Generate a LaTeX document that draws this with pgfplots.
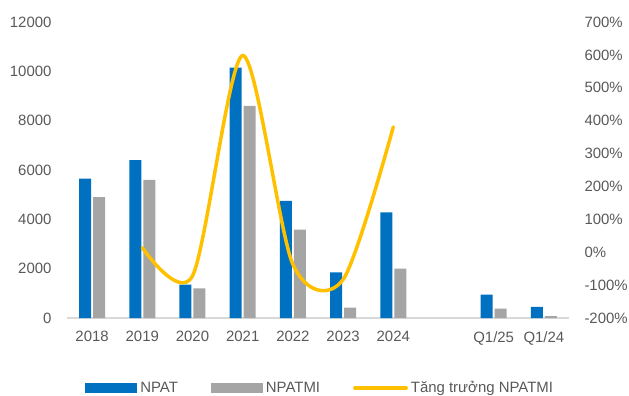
\documentclass[border=0pt]{standalone}
\usepackage{fontspec}
\setmainfont{Liberation Sans}
\usepackage{pgfplots}
\pgfplotsset{compat=1.18}
\definecolor{cblue}{HTML}{0070C0}
\definecolor{cgray}{HTML}{A5A5A5}
\definecolor{cyellow}{HTML}{FFC000}
\definecolor{ctext}{HTML}{595959}
\definecolor{caxis}{HTML}{D9D9D9}
\begin{document}
\begin{tikzpicture}[font=\fontsize{15}{18}\selectfont]
\pgfplotsset{
  base/.style={
    scale only axis, width=502bp, height=296bp,
    xmin=-0.5, xmax=9.5,
    /pgf/number format/assume math mode=true,
    /pgf/number format/1000 sep={},
    tick label style={color=ctext, font=\fontsize{15}{18}\selectfont},
    major tick length=0pt,
    xtick style={draw=none}, ytick style={draw=none},
    axis line style={-},
  }
}
\begin{axis}[base, name=ax,
  ymin=0, ymax=12000, ytick={0,2000,...,12000},
  scaled y ticks=false,
  axis y line*=left, axis x line*=bottom,
  y axis line style={draw=none},
  x axis line style={draw=caxis, line width=1.5bp},
  xtick={0,1,2,3,4,5,6,8,9},
  xticklabels={2018,2019,2020,2021,2022,2023,2024,Q1/25,Q1/24},
  ybar=2bp, bar width=12bp,
  yticklabel style={xshift=-12bp},
  xticklabel style={yshift=-10bp},
  legend columns=-1,
  legend style={at={(0.036,-0.2365)}, anchor=west, draw=none, fill=none,
    inner sep=0pt, font=\fontsize{15}{18}\selectfont, text=ctext,
    nodes={inner sep=3bp},
    /tikz/every even column/.append style={column sep=30bp}},
]
\addplot[fill=cblue, draw=none,
  legend image code/.code={\fill[cblue] (0bp,-5bp) rectangle (52bp,5bp);}]
  coordinates {(0,5650) (1,6400) (2,1350) (3,10150) (4,4750) (5,1850) (6,4280) (8,950) (9,450)};
\addlegendentry{NPAT}
\addplot[fill=cgray, draw=none,
  legend image code/.code={\fill[cgray] (0bp,-5bp) rectangle (52bp,5bp);}]
  coordinates {(0,4900) (1,5600) (2,1200) (3,8600) (4,3580) (5,420) (6,2000) (8,380) (9,80)};
\addlegendentry{NPATMI}
\addlegendimage{legend image code/.code={\draw[cyellow, line width=3.5bp, line cap=round] (1.75bp,0bp) -- (53bp,0bp);}}
\addlegendentry{Tăng trưởng NPATMI}
\end{axis}
\begin{axis}[base,
  ymin=-200, ymax=700, ytick={-200,-100,...,700},
  axis y line*=right, axis x line=none,
  y axis line style={draw=none},
  yticklabel={\pgfmathprintnumber{\tick}\%},
  yticklabel style={anchor=west, xshift=12bp},
]
\addplot[cyellow, line width=3.5bp, line cap=round, smooth, tension=0.48]
  coordinates {(1,14) (2,-72) (3,598) (4,-37) (5,-83) (6,381)};
\end{axis}
\pgfresetboundingbox
\path[use as bounding box] ([shift={(-67bp,-78bp)}]ax.south west) rectangle ([shift={(562bp,318bp)}]ax.south west);
\end{tikzpicture}
\end{document}
